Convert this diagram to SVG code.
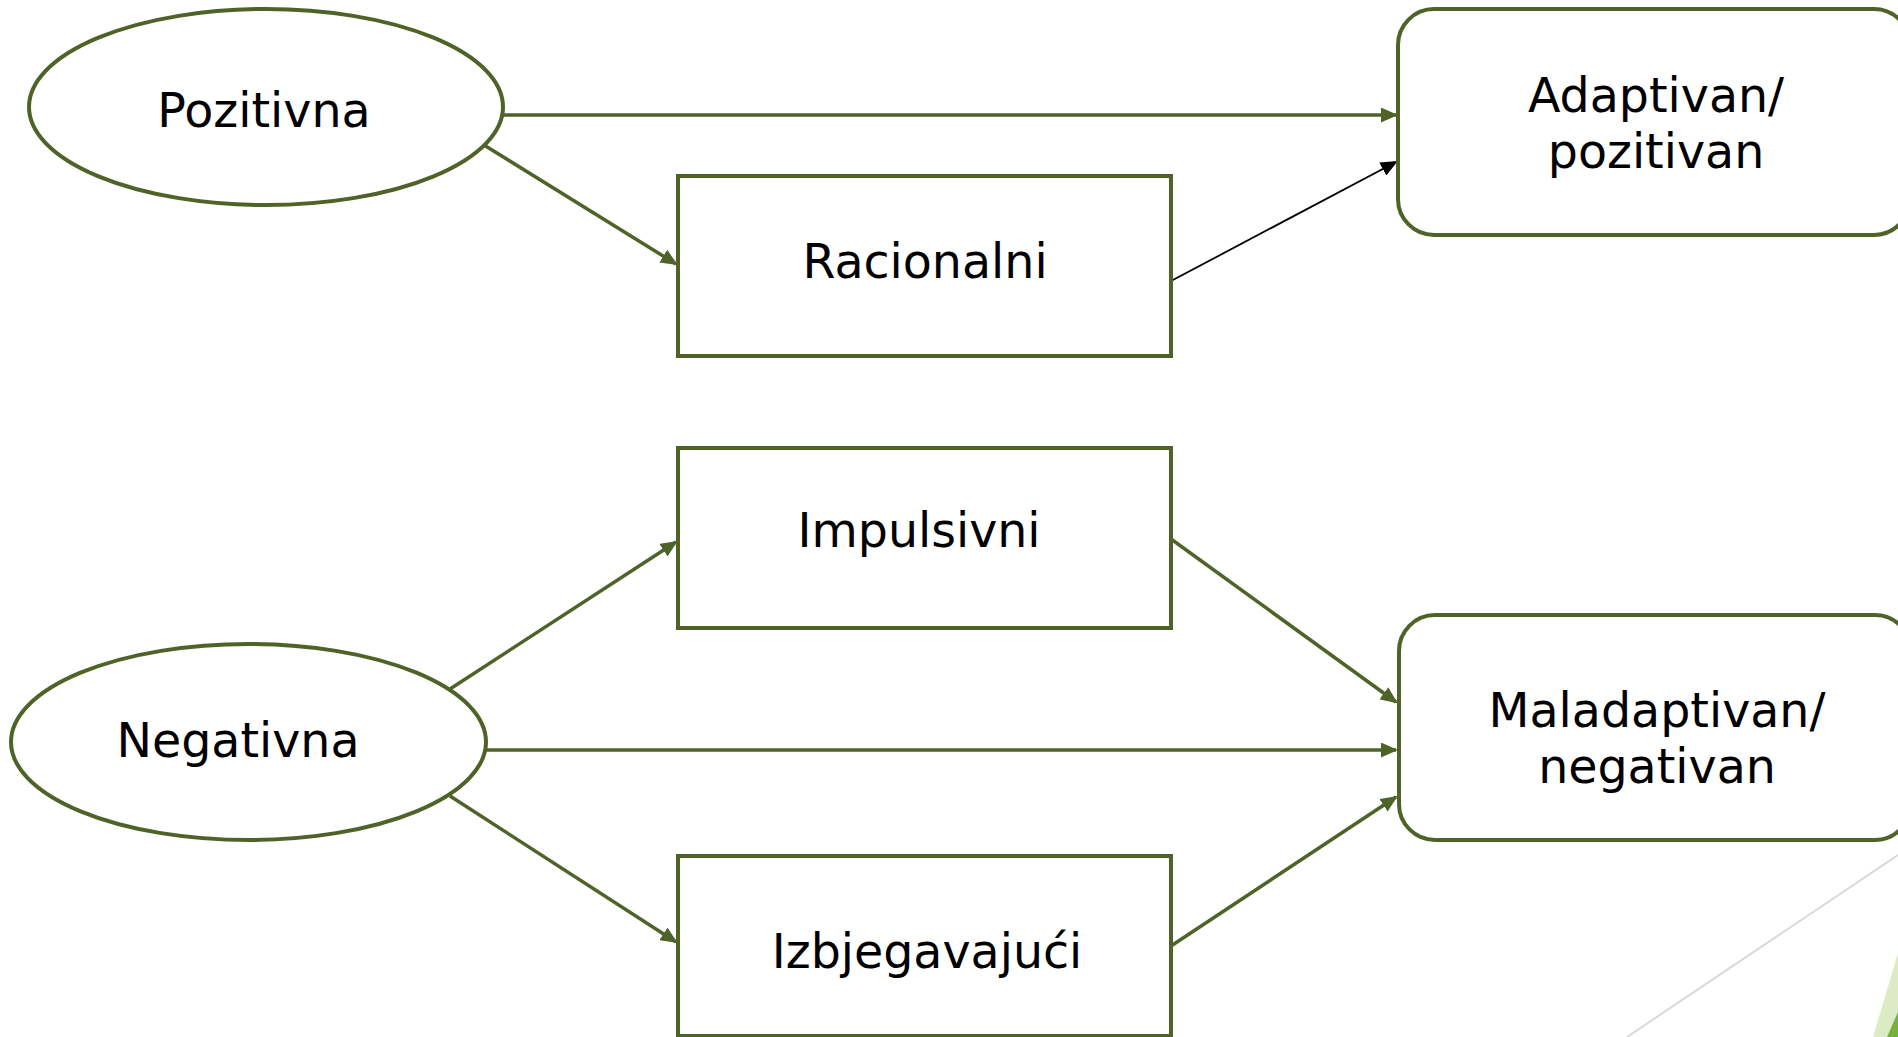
<svg xmlns="http://www.w3.org/2000/svg" width="1898" height="1037" viewBox="0 0 1898 1037">
  <defs>
    <style>
      .node { fill: #FFFFFF; stroke: #4F6228; stroke-width: 4; }
      .lbl { font-family: "DejaVu Sans", Verdana, sans-serif; font-size: 47.5px; fill: #000000; text-anchor: middle; }
      .con { stroke: #4F6228; stroke-width: 3.5; fill: none; }
      .conk { stroke: #000000; stroke-width: 1.8; fill: none; }
    </style>
    <marker id="ag" markerWidth="17" markerHeight="15" refX="15" refY="7.5" orient="auto" markerUnits="userSpaceOnUse">
      <path d="M0,0 L17,7.5 L0,15 z" fill="#4F6228"/>
    </marker>
    <marker id="ak" markerWidth="17" markerHeight="15" refX="15" refY="7.5" orient="auto" markerUnits="userSpaceOnUse">
      <path d="M0,0 L17,7.5 L0,15 z" fill="#000000"/>
    </marker>
  </defs>
  <rect x="0" y="0" width="1898" height="1037" fill="#FFFFFF"/>

  <g id="decor">
    <line x1="1898" y1="855" x2="1627" y2="1037" stroke="#D9D9D9" stroke-width="2"/>
    <polygon points="1898,953 1873,1037 1898,1037" fill="#DDEBC4"/>
    <polygon points="1898,1012 1887,1037 1898,1037" fill="#78B040"/>
  </g>

  <g id="connectors">
    <line class="con" x1="503" y1="115" x2="1396" y2="115" marker-end="url(#ag)"/>
    <line class="con" x1="484" y1="145" x2="676" y2="264" marker-end="url(#ag)"/>
    <line class="conk" x1="1171" y1="281" x2="1396" y2="162" marker-end="url(#ak)"/>
    <line class="con" x1="450" y1="689" x2="676" y2="542" marker-end="url(#ag)"/>
    <line class="con" x1="486" y1="750" x2="1396" y2="750" marker-end="url(#ag)"/>
    <line class="con" x1="450" y1="796" x2="676" y2="942" marker-end="url(#ag)"/>
    <line class="con" x1="1171" y1="539" x2="1396" y2="702" marker-end="url(#ag)"/>
    <line class="con" x1="1171" y1="946" x2="1396" y2="797" marker-end="url(#ag)"/>
  </g>

  <g id="pozitivna">
    <ellipse class="node" cx="266" cy="107" rx="237" ry="98" stroke-width="3.5"/>
    <text class="lbl" x="264" y="127">Pozitivna</text>
  </g>

  <g id="negativna">
    <ellipse class="node" cx="248.5" cy="742" rx="237.5" ry="98" stroke-width="3.5"/>
    <text class="lbl" x="238" y="757">Negativna</text>
  </g>

  <g id="racionalni">
    <rect class="node" x="678" y="176" width="493" height="180"/>
    <text class="lbl" x="925" y="278">Racionalni</text>
  </g>

  <g id="impulsivni">
    <rect class="node" x="678" y="448" width="493" height="180"/>
    <text class="lbl" x="919" y="547">Impulsivni</text>
  </g>

  <g id="izbjegavajuci">
    <rect class="node" x="678" y="856" width="493" height="180"/>
    <text class="lbl" x="927" y="968">Izbjegavajući</text>
  </g>

  <g id="adaptivan">
    <rect class="node" x="1398" y="9" width="512" height="226" rx="36" ry="36"/>
    <text class="lbl" x="1656" y="112">Adaptivan/</text>
    <text class="lbl" x="1656" y="168">pozitivan</text>
  </g>

  <g id="maladaptivan">
    <rect class="node" x="1399" y="615" width="512" height="225" rx="36" ry="36"/>
    <text class="lbl" x="1657" y="727">Maladaptivan/</text>
    <text class="lbl" x="1657" y="783">negativan</text>
  </g>
</svg>
